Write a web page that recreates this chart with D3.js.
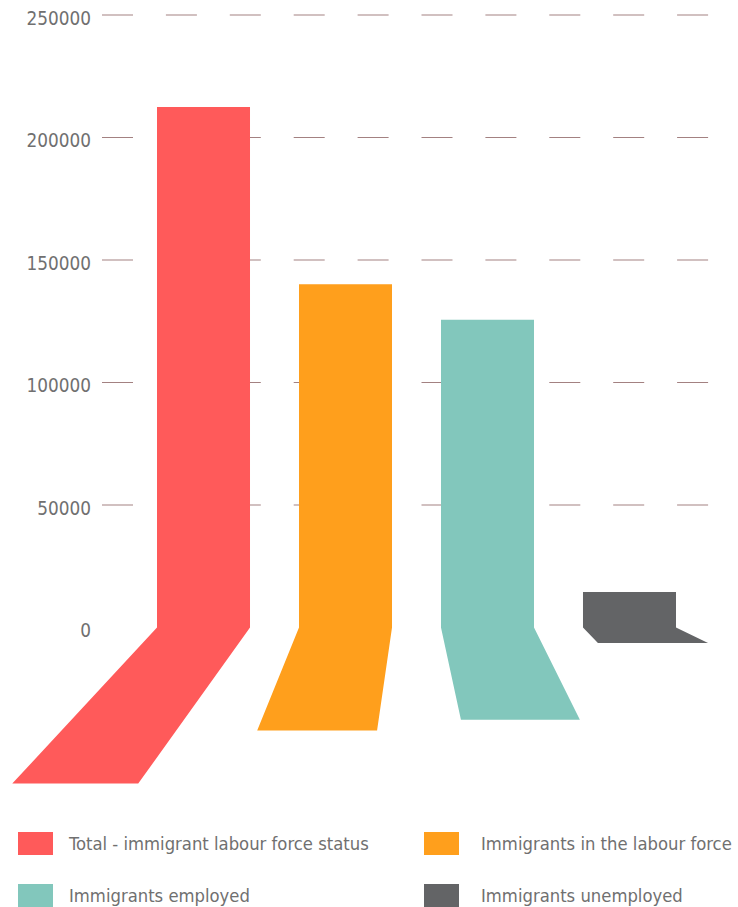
<!DOCTYPE html>
<html>
<head>
<meta charset="utf-8">
<script src="https://cdn.jsdelivr.net/npm/d3@7/dist/d3.min.js"></script>
<style>
  html, body { margin: 0; padding: 0; background: #fff; }
  svg { display: block; }
</style>
</head>
<body>
<div id="chart"></div>
<script>
// ---- data ----
const categories = [
  "Total - immigrant labour force status",
  "Immigrants in the labour force",
  "Immigrants employed",
  "Immigrants unemployed"
];
const values = [212400, 140100, 125600, 14500];
const colors = ["#ff5a5a", "#ff9f1c", "#82c7bc", "#636466"];
const tickValues = [0, 50000, 100000, 150000, 200000, 250000];

// ---- layout ----
const W = 738, H = 907;
const svg = d3.select("#chart").append("svg").attr("width", W).attr("height", H);

const y = d3.scaleLinear().domain([0, 250000]).range([627.5, 15]);
const x = d3.scaleBand().domain(categories).range([157, 676]).paddingInner(0.345).paddingOuter(0);

// gridlines (dashed) for non-zero ticks
const grid = svg.append("g");
grid.selectAll("line").data(tickValues.filter(d => d > 0)).join("line")
  .attr("x1", 102).attr("x2", 708.5)
  .attr("y1", d => y(d)).attr("y2", d => y(d))
  .attr("stroke", "#a38181").attr("stroke-width", 1.2)
  .attr("stroke-dasharray", "31 32.9");

// y axis labels
const yAxis = d3.axisLeft(y).tickValues(tickValues).tickSize(0).tickPadding(0).tickFormat(d3.format("d"));
const ag = svg.append("g").attr("transform", "translate(91,3)").call(yAxis);
ag.select(".domain").remove();
ag.selectAll("text")
  .attr("fill", "#707070")
  .style("font-family", "'DejaVu Sans Condensed', 'DejaVu Sans', sans-serif")
  .style("font-size", "18.8px");

// bars with perspective "foot"
const footLean = [[-0.927, -0.716], [-0.406, -0.145], [0.216, 0.497], [0.97, 2.08]];
const footRatio = 0.3, footMin = 15.4;

const bars = svg.append("g");
categories.forEach((c, i) => {
  const x0 = x(c), x1 = x(c) + x.bandwidth();
  const top = y(values[i]), base = y(0);
  const depth = Math.max((base - top) * footRatio, footMin);
  const [ll, lr] = footLean[i];
  const pts = [
    [x0, top], [x1, top], [x1, base],
    [x1 + lr * depth, base + depth],
    [x0 + ll * depth, base + depth],
    [x0, base]
  ];
  bars.append("path")
    .attr("d", d3.line()(pts) + "Z")
    .attr("fill", colors[i]);
});

// legend
const legendPos = [[18, 832, 69], [424, 832, 481], [18, 884, 69], [424, 884, 481]];
const lg = svg.append("g");
categories.forEach((c, i) => {
  const [lx, ly, tx] = legendPos[i];
  lg.append("rect").attr("x", lx).attr("y", ly).attr("width", 35).attr("height", 23).attr("fill", colors[i]);
  lg.append("text").attr("x", tx).attr("y", ly + 17.5)
    .attr("fill", "#707070")
    .style("font-family", "'DejaVu Sans Condensed', sans-serif")
    .style("font-size", "18.3px")
    .text(c);
});
</script>
</body>
</html>
